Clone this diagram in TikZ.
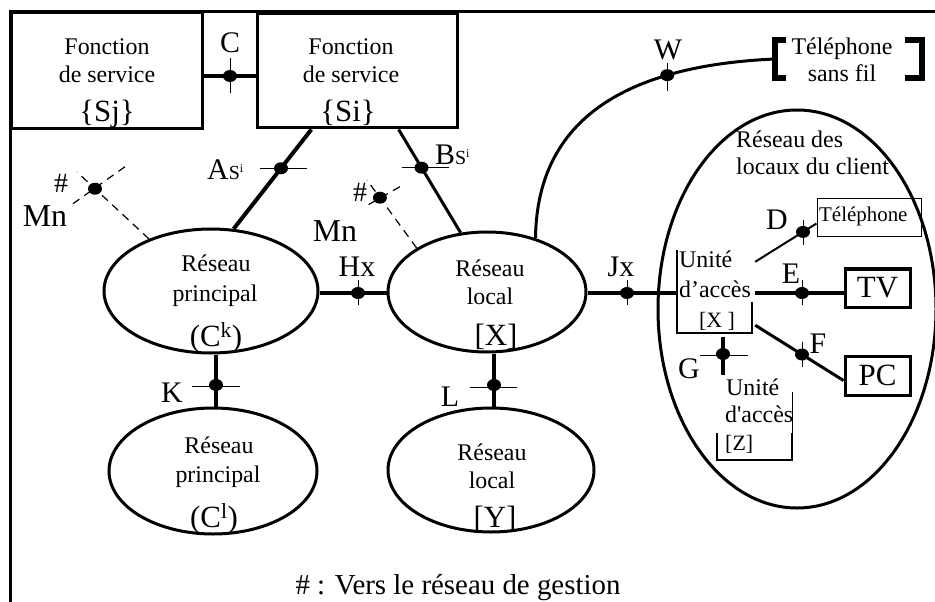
\documentclass[tikz,border=0pt]{standalone}
\usepackage{fontspec}
\setmainfont{Liberation Serif}
\newfontfamily\rawserif{Liberation Serif}
\usetikzlibrary{shapes.geometric,calc}

\tikzset{
  fsz/.style={font=\fontsize{#1}{#1}\selectfont},
  lbl/.style={fsz=30, inner sep=0pt},
  txt/.style={fsz=24, inner sep=0pt},
  conn/.style={line width=4bp},
  link/.style={line width=#1},
  tickln/.style={line width=0.9bp},
  jdot/.style={ellipse, fill=black, minimum width=14bp, minimum height=12bp, inner sep=0pt},
  mgmt/.style={line width=1.2bp, dash pattern=on 8bp off 6bp},
  net/.style={ellipse, draw, line width=3bp, inner sep=0pt},
  svcbox/.style={rectangle, draw, line width=3bp, inner sep=0pt},
  devbox/.style={rectangle, draw, line width=3bp, inner sep=0pt, fsz=31},
  accline/.style={line width=2.5bp},
  brk/.style={line width=5.5bp},
}

\begin{document}
\begin{tikzpicture}[x=1bp, y=-1bp]
\useasboundingbox (0,0) rectangle (935,602);

% outer frame
\draw[line width=3bp] (10,602) -- (10,12) -- (935,12);

% service functions
\node[svcbox, minimum width=190bp, minimum height=116bp] (sj) at (107,71) {};
\node[txt, anchor=base] (sj1) at (107,55) {Fonction};
\node[txt, anchor=base] (sj2) at (107,83) {de service};
\node[fsz=31, inner sep=0pt, anchor=base] (sj3) at (107,122) {\{Sj\}};

\node[svcbox, minimum width=200bp, minimum height=114bp] (si) at (357,71) {};
\node[txt, anchor=base] (si1) at (351,55) {Fonction};
\node[txt, anchor=base] (si2) at (351,83) {de service};
\node[fsz=31, inner sep=0pt, anchor=base] (si3) at (348,122) {\{Si\}};

% networks
\node[net, minimum width=214bp, minimum height=124bp] (ck) at (211,291) {};
\node[txt, anchor=base] (ck1) at (216,272) {Réseau};
\node[txt, anchor=base] (ck2) at (215,301) {principal};
\node[fsz=31, inner sep=0pt, anchor=base] (ck3) at (216,346) {(C\textsuperscript{k})};

\node[net, minimum width=208bp, minimum height=126bp] (cl) at (213,471) {};
\node[txt, anchor=base] (cl1) at (219,453) {Réseau};
\node[txt, anchor=base] (cl2) at (218,482) {principal};
\node[fsz=31, inner sep=0pt, anchor=base] (cl3) at (214,527) {(C\textsuperscript{l})};

\node[net, minimum width=198bp, minimum height=120bp] (lx) at (487,292) {};
\node[txt, anchor=base] (lx1) at (490,277) {Réseau};
\node[txt, anchor=base] (lx2) at (490,304) {local};
\node[fsz=31, inner sep=0pt, anchor=base] (lx3) at (496,345) {[X]};

\node[net, minimum width=206bp, minimum height=124bp] (ly) at (491,470) {};
\node[txt, anchor=base] (ly1) at (492,460) {Réseau};
\node[txt, anchor=base] (ly2) at (492,488) {local};
\node[fsz=31, inner sep=0pt, anchor=base] (ly3) at (495,527) {[Y]};

% customer premises network
\node[net, minimum width=278bp, minimum height=398bp] (cpn) at (797,309) {};
\node[txt, anchor=base west] (cpn1) at (736,148) {Réseau des};
\node[txt, anchor=base west] (cpn2) at (736,175) {locaux du client};

% access unit X (open box)
\node[minimum width=75bp, minimum height=83bp, inner sep=0pt] (ux) at (714.5,291.5) {};
\draw[accline] (ux.north west) -- (ux.south west) -- (ux.south east) -- ($(ux.south east)+(0,-31)$);
\node[txt, anchor=base west] (ux1) at (679,268) {Unité};
\node[txt, anchor=base west] (ux2) at (679,297) {d’accès};
\node[fsz=22, inner sep=0pt, anchor=base] (ux3) at (717,327) {[X ]};

% access unit Z (open box)
\node[minimum width=75bp, minimum height=68bp, inner sep=0pt] (uz) at (754.5,426) {};
\draw[accline] ($(uz.south west)+(0,-27)$) -- (uz.south west) -- (uz.south east) -- ($(uz.south east)+(0,-27)$);
\draw[line width=1bp] ($(uz.south east)+(0,-27)$) -- (uz.north east);
\node[txt, anchor=base west] (uz1) at (726,395) {Unité};
\node[txt, anchor=base west] (uz2) at (725,422) {\rawserif d'accès};
\node[fsz=22, inner sep=0pt, anchor=base west] (uz3) at (725,450) {[Z]};

% terminals
\node[rectangle, draw, line width=1bp, minimum width=104bp, minimum height=37bp, inner sep=0pt] (tel) at (869,217.5) {};
\node[fsz=21, inner sep=0pt, anchor=base west] (tel1) at (819,222) {Téléphone};
\node[devbox, minimum width=65bp, minimum height=38bp] (tv) at (877.5,288) {TV};
\node[devbox, minimum width=65bp, minimum height=39bp] (pc) at (877.5,375.5) {PC};

% cordless phone with brackets
\node[minimum width=147bp, minimum height=38bp, inner sep=0pt] (tsf) at (848.5,59) {};
\draw[brk] ($(tsf.north west)+(11,0)$) -- (tsf.north west) -- (tsf.south west) -- ($(tsf.south west)+(11,0)$);
\draw[brk] ($(tsf.north east)+(-17,0)$) -- (tsf.north east) -- (tsf.south east) -- ($(tsf.south east)+(-17,0)$);
\node[txt, anchor=base] (tsf1) at (842,55) {Téléphone};
\node[txt, anchor=base] (tsf2) at (842,82) {sans fil};

% ---- reference points ----
% C
\coordinate (pC) at (230,76);
\draw[conn] (sj.east |- pC) -- (si.west |- pC);
\draw[tickln] ($(pC)+(0,-18)$) -- ($(pC)+(0,17)$);
\node[jdot] (dC) at (pC) {};
\node[lbl] (lC) at (230,43) {C};

% As
\coordinate (asTop) at ($(si.south west)!0.275!(si.south east)$);
\draw[conn] (asTop) -- (ck.70) coordinate[pos=0.39] (pAs);
\draw[tickln] ($(pAs)+(-21,0)$) -- ($(pAs)+(26,0)$);
\node[jdot] (dAs) at (pAs) {};
\node[lbl, anchor=base west] (lAs) at (207,180) {A{\fontsize{20}{20}\selectfont S\raisebox{7bp}{\fontsize{12}{12}\selectfont i}}};

% Bs
\coordinate (bsTop) at ($(si.south west)!0.705!(si.south east)$);
\draw[link=3bp] (bsTop) -- (lx.114) coordinate[pos=0.37] (pBs);
\draw[tickln] ($(pBs)+(-20,0)$) -- ($(pBs)+(27,0)$);
\node[jdot] (dBs) at (pBs) {};
\node[lbl, anchor=base west] (lBs) at (435,165) {B{\fontsize{20}{20}\selectfont S\raisebox{7bp}{\fontsize{12}{12}\selectfont i}}};

% management points
\coordinate (m1a) at (77,172);
\draw[mgmt] (ck.140) -- (m1a) coordinate[pos=0.75] (pM1);
\draw[mgmt] ($(pM1)+(30,-22)$) -- ($(pM1)+(-22,15)$);
\node[jdot] (dM1) at (pM1) {};
\node[fsz=28, inner sep=0pt] (lM1h) at (61,183) {\#};
\node[fsz=32, inner sep=0pt] (lM1) at (45,216) {Mn};

\coordinate (m2a) at (367,180);
\draw[mgmt] (lx.148) -- (m2a) coordinate[pos=0.74] (pM2);
\draw[mgmt] ($(pM2)+(20,-11)$) -- ($(pM2)+(-15,9)$);
\node[jdot] (dM2) at (pM2) {};
\node[fsz=28, inner sep=0pt] (lM2h) at (360,192) {\#};
\node[fsz=32, inner sep=0pt] (lM2) at (335,231) {Mn};

% Hx
\coordinate (pH) at (358,293);
\draw[conn] (ck.east |- pH) -- (lx.west |- pH);
\draw[tickln] ($(pH)+(0,-13)$) -- ($(pH)+(0,12)$);
\node[jdot] (dH) at (pH) {};
\node[lbl] (lH) at (357,267) {Hx};

% K
\coordinate (pK) at (216,385);
\draw[conn] (ck.south -| pK) -- (cl.north -| pK);
\draw[tickln] ($(pK)+(-24,1)$) -- ($(pK)+(24,1)$);
\node[jdot] (dK) at (pK) {};
\node[lbl] (lK) at (172,393) {K};

% L
\coordinate (pL) at (494,385);
\draw[conn] (lx.south -| pL) -- (ly.north -| pL);
\draw[tickln] ($(pL)+(-24,2)$) -- ($(pL)+(23,2)$);
\node[jdot] (dL) at (pL) {};
\node[lbl] (lL) at (450,397) {L};

% Jx
\coordinate (pJ) at (627,293);
\draw[conn] (lx.east |- pJ) -- (ux.west |- pJ);
\draw[tickln] ($(pJ)+(0,-13)$) -- ($(pJ)+(0,12)$);
\node[jdot] (dJ) at (pJ) {};
\node[lbl] (lJ) at (621,267) {Jx};

% W (cordless link)
\draw[link=3bp] (lx.48) .. controls (537,110) and (640,65) .. (tsf.west) coordinate[pos=0.71] (pW);
\draw[tickln] ($(pW)+(0,-12)$) -- ($(pW)+(0,16)$);
\node[jdot] (dW) at (pW) {};
\node[lbl] (lW) at (668,50) {W};

% D
\draw[link=2bp] ($(ux.north east)+(3,12)$) -- ($(tel.south west)+(0,-13)$) coordinate[pos=0.78] (pD);
\draw[tickln] ($(pD)+(0,-12)$) -- ($(pD)+(0,13)$);
\node[jdot] (dD) at (pD) {};
\node[lbl] (lD) at (777,220) {D};

% E
\coordinate (pE) at (802,293);
\draw[conn] ($(ux.east |- pE)+(3,0)$) -- (tv.west |- pE);
\draw[tickln] ($(pE)+(0,-13)$) -- ($(pE)+(0,12)$);
\node[jdot] (dE) at (pE) {};
\node[lbl] (lE) at (791,274) {E};

% F
\draw[link=3bp] ($(ux.south east)+(3,-8)$) -- ($(pc.west)+(0,5)$) coordinate[pos=0.53] (pF);
\draw[tickln] ($(pF)+(0,-13)$) -- ($(pF)+(0,12)$);
\node[jdot] (dF) at (pF) {};
\node[lbl] (lF) at (818,344) {F};

% G
\coordinate (pG) at (723,354);
\coordinate (gEnd) at (723,375);
\draw[conn] ($(ux.south -| pG)+(0,4)$) -- (gEnd);
\draw[tickln] ($(pG)+(-23,1)$) -- ($(pG)+(25,1)$);
\node[jdot] (dG) at (pG) {};
\node[lbl] (lG) at (689,369) {G};

% legend
\node[fsz=29, inner sep=0pt, anchor=base] (legend) at (458,594) {\# : Vers le réseau de gestion};

\end{tikzpicture}
\end{document}
